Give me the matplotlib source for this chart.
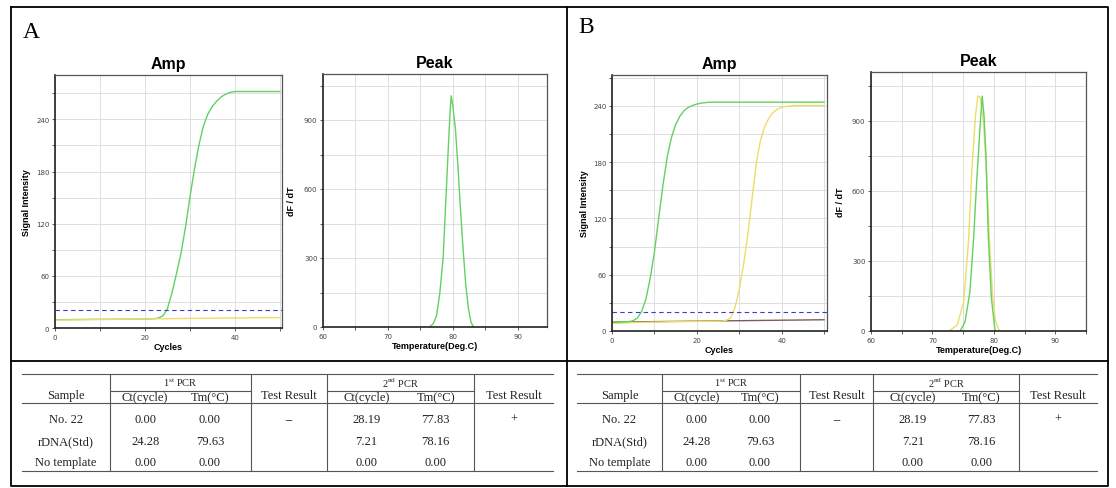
import matplotlib
matplotlib.use("Agg")
import matplotlib.pyplot as plt
from matplotlib.ticker import MultipleLocator
import numpy as np

plt.rcParams['mathtext.fontset'] = 'custom'
plt.rcParams['mathtext.rm'] = 'Liberation Serif'

# ---------------- data ----------------
cycles = np.arange(0, 51)

ampA_green = [9.5, 9.6, 9.6, 9.7, 9.7, 9.8, 9.8, 9.9, 9.9, 10, 10, 10, 10, 10.1, 10.1, 10.1,
              10.2, 10.2, 10.2, 10.3, 10.3, 10.4,
              10.6, 11.5, 14, 22, 40, 62, 85, 115, 150, 182, 210, 232, 246, 255, 261, 266, 269, 271, 272,
              272, 272, 272, 272, 272, 272, 272, 272, 272, 272]
base_cycles = [0, 10, 20, 30, 40, 50]
ampA_yellow = [9.0, 9.8, 10.4, 11.0, 11.5, 12.0]
threshold_A = 20.5

ampB_green = [9.5, 9.6, 9.7, 9.8, 10.0,
              11, 14, 21, 34, 56, 84, 120, 155, 185, 206, 220, 229, 235, 238.5, 240.5, 242, 243, 243.5,
              244, 244, 244, 244, 244, 244, 244, 244, 244, 244, 244, 244, 244, 244,
              244, 244, 244, 244, 244, 244, 244, 244, 244, 244, 244, 244, 244, 244]
ampB_yellow = [8.0, 8.2, 8.4, 8.6, 8.8, 9.0, 9.1, 9.2, 9.3, 9.4, 9.5, 9.6, 9.7, 9.8, 9.9, 10.0,
               10.0, 10.1, 10.1, 10.2, 10.2, 10.3, 10.3, 10.4, 10.4, 10.5, 10.6,
               11.5, 14, 25, 44, 70, 102, 140, 178, 203, 218, 227, 233, 236.5, 238.5, 239.5, 240,
               240.5, 240.5, 240.5, 240.5, 240.5, 240.5, 240.5, 240.5]
ampB_brown = [9.5, 10.0, 10.5, 11.0, 11.5, 12.0]
threshold_B = 20.0

peakA_temp = [76.4, 77.0, 77.5, 78.0, 78.5, 79.0, 79.3, 79.6, 79.75, 80.0, 80.4, 80.8, 81.2,
              81.6, 82.0, 82.4, 82.8, 83.2]
peakA_green = [0, 15, 50, 150, 300, 600, 780, 950, 1005, 960, 860, 690, 500, 330, 180, 80, 20, 0]

peakB_green_temp = [74.5, 75.3, 76.1, 76.7, 77.2, 77.8, 78.1, 78.4, 78.7, 79.1, 79.6, 80.2]
peakB_green = [0, 38, 167, 395, 637, 893, 1005, 920, 760, 400, 140, 0]
peakB_yellow_temp = [72.7, 74.0, 75.1, 75.9, 76.4, 77.0, 77.4, 77.8, 78.3, 78.8, 79.3, 79.8,
                     80.3, 80.9]
peakB_yellow = [0, 24, 124, 395, 680, 920, 1005, 1000, 900, 680, 380, 150, 40, 0]

samples = ["No. 22", "rDNA(Std)", "No template"]
ct1 = ["0.00", "24.28", "0.00"]
tm1 = ["0.00", "79.63", "0.00"]
result1 = "\u2013"
ct2 = ["28.19", "7.21", "0.00"]
tm2 = ["77.83", "78.16", "0.00"]
result2 = "+"

GREEN = '#62d162'
YELLOW = '#eedc6a'
BROWN = '#7b5c5c'
THR = '#3a3ad0'

# ---------------- layout helpers ----------------
W, H = 1116, 489
fig = plt.figure(figsize=(W / 100, H / 100), dpi=100)
bg = fig.add_axes([0, 0, 1, 1])
bg.set_xlim(0, W)
bg.set_ylim(H, 0)
bg.axis('off')


def rect(x0, y0, x1, y1):
    return [x0 / W, 1 - y1 / H, (x1 - x0) / W, (y1 - y0) / H]


def style(ax, xlim, ylim, xmaj, xmin, ymaj, ymin, title, xlabel, ylabel, ypad):
    ax.set_xlim(*xlim)
    ax.set_ylim(*ylim)
    ax.xaxis.set_major_locator(MultipleLocator(xmaj))
    ax.xaxis.set_minor_locator(MultipleLocator(xmin))
    ax.yaxis.set_major_locator(MultipleLocator(ymaj))
    ax.yaxis.set_minor_locator(MultipleLocator(ymin))
    ax.grid(which='both', color='#d9d9d9', lw=0.6)
    ax.set_axisbelow(True)
    ax.tick_params(which='both', labelsize=5, colors='#444', length=2.5, width=0.6,
                   direction='out', pad=1.5)
    ax.tick_params(which='minor', length=2)
    for s in ['left', 'bottom']:
        ax.spines[s].set_color('#222')
        ax.spines[s].set_linewidth(1.2)
    for s in ['top', 'right']:
        ax.spines[s].set_color('#555')
        ax.spines[s].set_linewidth(0.9)
    ax.set_title(title, fontsize=11.5, fontweight='bold', pad=5, family='Liberation Sans')
    ax.set_xlabel(xlabel, fontsize=6.5, fontweight='bold', labelpad=2, family='Liberation Sans')
    ax.set_ylabel(ylabel, fontsize=6.5, fontweight='bold', labelpad=ypad, family='Liberation Sans')


# ---------------- Panel A ----------------
axA1 = fig.add_axes(rect(55, 76, 282, 329))
axA1.plot(cycles, ampA_green, color=GREEN, lw=1.0)
axA1.plot(base_cycles, ampA_yellow, color=YELLOW, lw=1.0)
axA1.axhline(threshold_A, color=THR, lw=0.8, ls=(0, (4, 3)))
style(axA1, (0, 50.5), (0, 291), 20, 10, 60, 30, 'Amp', 'Cycles', 'Signal Intensity', 3.5)

axA2 = fig.add_axes(rect(323, 75, 547, 328))
axA2.plot(peakA_temp, peakA_green, color=GREEN, lw=1.0)
style(axA2, (60, 94.5), (0, 1100), 10, 5, 300, 150, 'Peak', 'Temperature(Deg.C)', 'dF / dT', 6)

# ---------------- Panel B ----------------
axB1 = fig.add_axes(rect(612, 76, 827, 332))
axB1.plot(base_cycles, ampB_brown, color=BROWN, lw=1.0)
axB1.plot(cycles, ampB_yellow, color=YELLOW, lw=1.0)
axB1.plot(cycles, ampB_green, color=GREEN, lw=1.0)
axB1.axhline(threshold_B, color=THR, lw=0.8, ls=(0, (4, 3)))
style(axB1, (0, 50.7), (0, 273), 20, 10, 60, 30, 'Amp', 'Cycles', 'Signal Intensity', 3)

axB2 = fig.add_axes(rect(871, 73, 1086, 332))
axB2.plot(peakB_yellow_temp, peakB_yellow, color=YELLOW, lw=1.0)
axB2.plot(peakB_green_temp, peakB_green, color=GREEN, lw=1.0)
style(axB2, (60, 95), (0, 1108), 10, 5, 300, 150, 'Peak', 'Temperature(Deg.C)', 'dF / dT', 5)

# ---------------- frames ----------------
bg.plot([11, 1108, 1108, 11, 11], [8, 8, 487, 487, 8], color='black', lw=1.3)
bg.plot([566.5, 566.5], [8, 487], color='black', lw=1.3)
bg.plot([11, 1108], [362, 362], color='black', lw=1.3)

bg.text(23, 37.5, 'A', fontsize=17, family='Liberation Serif', va='baseline', ha='left')
bg.text(578, 33.3, 'B', fontsize=17, family='Liberation Serif', va='baseline', ha='left')

# ---------------- tables ----------------
SERIF = 'Liberation Serif'
TC = '#222222'
LC = '#555555'


def draw_table(edges):
    left, c1, c2, c3, c4, right = edges
    top, mid, hb, bot = 375, 391.5, 403.7, 471.7
    lw = 0.8
    bg.plot([left, right], [top, top], color=LC, lw=lw)
    bg.plot([left, right], [hb, hb], color=LC, lw=lw)
    bg.plot([left, right], [bot, bot], color=LC, lw=lw)
    bg.plot([c1, c2], [mid, mid], color=LC, lw=lw)
    bg.plot([c3, c4], [mid, mid], color=LC, lw=lw)
    for c in (c1, c2, c3, c4):
        bg.plot([c, c], [top, bot], color=LC, lw=lw)
    fs = 9
    kw = dict(family=SERIF, fontsize=fs, color=TC, ha='center', va='center')
    bg.text((left + c1) / 2, 396, 'Sample', **kw)
    bg.text((c2 + c3) / 2, 396, 'Test Result', **kw)
    bg.text((c4 + right) / 2, 396, 'Test Result', **kw)
    kw_small = dict(kw)
    kw_small['fontsize'] = 7.5
    bg.text((c1 + c2) / 2, 383, r'1$^{\mathrm{st}}$ PCR', **kw_small)
    bg.text((c3 + c4) / 2, 383, r'2$^{\mathrm{nd}}$ PCR', **kw_small)
    x_ct1 = c1 + 0.25 * (c2 - c1)
    x_tm1 = c1 + 0.71 * (c2 - c1)
    x_ct2 = c3 + 0.27 * (c4 - c3)
    x_tm2 = c3 + 0.74 * (c4 - c3)
    for x, lab in ((x_ct1, 'Ct(cycle)'), (x_tm1, 'Tm(°C)'), (x_ct2, 'Ct(cycle)'), (x_tm2, 'Tm(°C)')):
        bg.text(x, 398, lab, **kw)
    rows_y = [420, 442.3, 462.7]
    for i, y in enumerate(rows_y):
        bg.text((left + c1) / 2, y, samples[i], **kw)
        bg.text(x_ct1, y, ct1[i], **kw)
        bg.text(x_tm1, y, tm1[i], **kw)
        bg.text(x_ct2, y, ct2[i], **kw)
        bg.text(x_tm2, y, tm2[i], **kw)
    bg.text((c2 + c3) / 2, rows_y[0], result1, fontweight='bold', **kw)
    bg.text((c4 + right) / 2, rows_y[0], result2, **kw)


draw_table([21.7, 110, 250.7, 326.7, 474, 553])
draw_table([577.3, 661.7, 800, 873.3, 1019.3, 1096.7])

fig.savefig('out.png', dpi=100)
